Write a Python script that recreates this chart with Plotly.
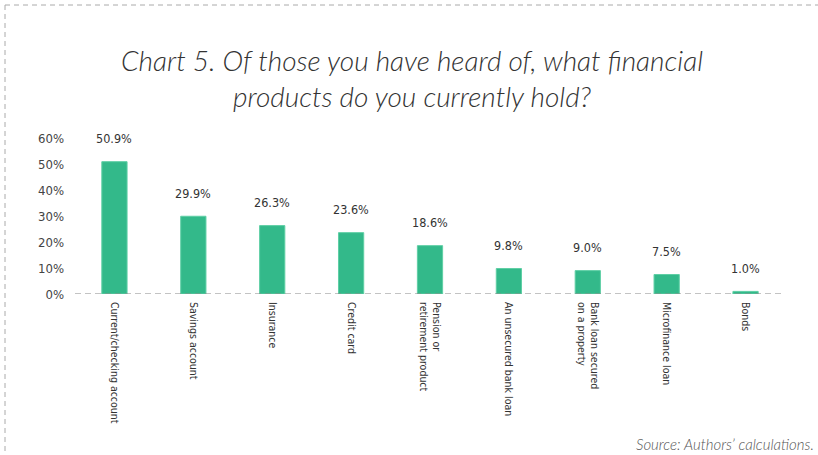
import plotly.graph_objects as go

# Survey results: share of respondents holding each product
categories = [
    "Current/checking account",
    "Savings account",
    "Insurance",
    "Credit card",
    "Pension or<br>retirement product",
    "An unsecured bank loan",
    "Bank loan secured<br>on a property",
    "Microfinance loan",
    "Bonds",
]
shares = [50.9, 29.9, 26.3, 23.6, 18.6, 9.8, 9.0, 7.5, 1.0]
y_ticks = [0, 10, 20, 30, 40, 50, 60]
y_tick_text = [f"{v}%" for v in y_ticks]

W, H = 818, 455
ML, MR, MT, MB = 75, 33, 138, 161
PW, PH = W - ML - MR, H - MT - MB

NARROW = "DejaVu Sans Condensed, Liberation Sans Narrow, sans-serif"
GREEN = "#33b98a"


def px_x(x):
    return (x - ML) / PW


def px_y(y):
    return (H - MB - y) / PH


fig = go.Figure(
    go.Bar(
        x=categories,
        y=shares,
        width=0.32,
        marker=dict(color=GREEN, line=dict(color="#5fcfa5", width=1)),
        cliponaxis=False,
        hovertemplate="%{x}: %{y:.1f}%<extra></extra>",
    )
)

# value labels floating above each bar
value_labels = [
    dict(x=c, y=v, xref="x", yref="y", text=f"{v:.1f}%", showarrow=False,
         xanchor="center", yanchor="middle", yshift=23,
         font=dict(family=NARROW, size=12.5, color="#333333"))
    for c, v in zip(categories, shares)
]

fig.update_layout(
    width=W,
    height=H,
    margin=dict(l=ML, r=MR, t=MT, b=MB, pad=0, autoexpand=False),
    paper_bgcolor="white",
    plot_bgcolor="white",
    showlegend=False,
    xaxis=dict(
        tickangle=90,
        tickfont=dict(family=NARROW, size=10.5, color="#333333"),
        showline=False,
        showgrid=False,
        ticks="",
        automargin=False,
        ticklabelstandoff=7,
    ),
    yaxis=dict(
        range=[0, 60],
        tickvals=y_ticks,
        ticktext=y_tick_text,
        tickfont=dict(family=NARROW, size=13, color="#444444"),
        showgrid=False,
        zeroline=False,
        showline=False,
        automargin=False,
        ticklabelstandoff=10,
    ),
    shapes=[
        # dashed baseline at 0%
        dict(type="line", xref="paper", yref="y", x0=0, x1=1, y0=0, y1=0,
             line=dict(color="#888888", width=1.2, dash="6px,4px"), layer="above"),
        # dashed frame: top and left edges
        dict(type="line", xref="paper", yref="paper",
             x0=px_x(5), x1=px_x(W), y0=px_y(5), y1=px_y(5),
             line=dict(color="#aaaaaa", width=1, dash="5px,4px")),
        dict(type="line", xref="paper", yref="paper",
             x0=px_x(5), x1=px_x(5), y0=px_y(5), y1=px_y(H),
             line=dict(color="#aaaaaa", width=1, dash="5px,4px")),
    ],
    annotations=value_labels + [
        dict(
            text="Chart 5. Of those you have heard of, what financial<br>products do you currently hold?",
            xref="paper", yref="paper", x=px_x(412), y=px_y(78),
            xanchor="center", yanchor="middle", showarrow=False,
            font=dict(family="Lato, Open Sans, sans-serif", size=28, color="#333333",
                      style="italic", weight=300),
        ),
        dict(
            text="Source: Authors’ calculations.",
            xref="paper", yref="paper", x=px_x(816), y=px_y(444),
            xanchor="right", yanchor="middle", showarrow=False,
            font=dict(family="Lato, Open Sans, sans-serif", size=15, color="#555555",
                      style="italic", weight=300),
        ),
    ],
)

fig.write_html("out.html")
